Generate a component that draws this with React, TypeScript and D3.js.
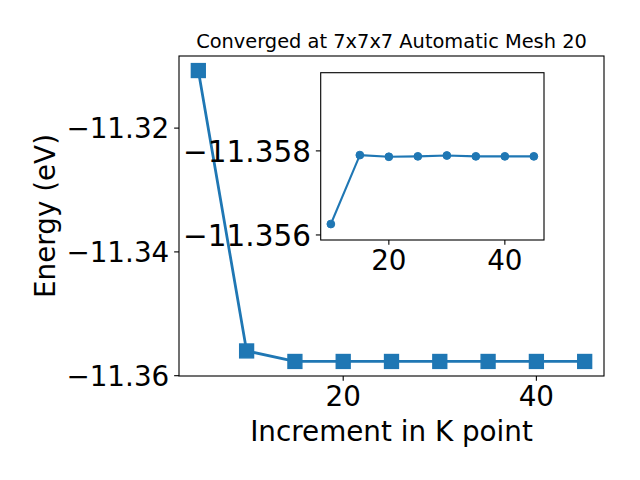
import React from 'react';
import * as d3 from 'd3';

const kPoints = [5, 10, 15, 20, 25, 30, 35, 40, 45];
const energies = [-11.3107, -11.3560, -11.3577, -11.3577, -11.3577, -11.3577, -11.3577, -11.3577, -11.3577];
const insetK = [10, 15, 20, 25, 30, 35, 40, 45];
const insetEnergies = [-11.35626, -11.3579, -11.35786, -11.35787, -11.35789, -11.35787, -11.35787, -11.35787];
const insetYDomain = [-11.35986, -11.35588];
const mainXTicks = [20, 40];
const mainYTicks = [-11.36, -11.34, -11.32];
const insetXTicks = [20, 40];
const insetYTicks = [-11.358, -11.356];
const title = 'Converged at 7x7x7 Automatic Mesh 20';
const xLabel = 'Increment in K point';
const yLabel = 'Energy (eV)';

const W = 640;
const H = 480;
const FONT = 'DejaVu Sans';
const FS = 27.8;
const FS_INSET_Y = 29.5;
const BLUE = '#1f77b4';
const TICK = 4.86;
const PAD = 4.86;

const main = { left: 179, right: 604, top: 56, bottom: 376 };
const inset = { left: 320.7, right: 544, top: 72.7, bottom: 240 };

function padExtent(vals: number[], frac = 0.05): [number, number] {
  const [a, b] = d3.extent(vals) as [number, number];
  const p = (b - a) * frac;
  return [a - p, b + p];
}

const fmt = (v: number, d: number) => v.toFixed(d).replace('-', '\u2212');

export default function App() {
  const x = d3.scaleLinear().domain(padExtent(kPoints)).range([main.left, main.right]);
  const y = d3.scaleLinear().domain(padExtent(energies)).range([main.bottom, main.top]);
  const ix = d3.scaleLinear().domain(padExtent(insetK)).range([inset.left, inset.right]);
  const iy = d3.scaleLinear().domain(insetYDomain).range([inset.top, inset.bottom]);

  const line = d3.line<number>().x((_, i) => x(kPoints[i])).y((d) => y(d));
  const iline = d3.line<number>().x((_, i) => ix(insetK[i])).y((d) => iy(d));

  const sq = 13.9;

  return (
    <svg width={W} height={H} style={{ position: 'absolute', left: 0, top: 0, background: '#fff' }} fontFamily={FONT}>
      <rect x={0} y={0} width={W} height={H} fill="#fff" />
      {/* main axes */}
      <rect x={main.left} y={main.top} width={main.right - main.left} height={main.bottom - main.top} fill="#fff" />
      <path d={line(energies) || ''} fill="none" stroke={BLUE} strokeWidth={2.78} strokeLinejoin="round" />
      {energies.map((e, i) => (
        <rect key={i} x={x(kPoints[i]) - sq / 2} y={y(e) - sq / 2} width={sq} height={sq} fill={BLUE} stroke={BLUE} strokeWidth={1.39} />
      ))}
      <rect x={main.left} y={main.top} width={main.right - main.left} height={main.bottom - main.top} fill="none" stroke="#000" strokeWidth={1.11} />
      {mainXTicks.map((t) => (
        <g key={t}>
          <line x1={x(t)} x2={x(t)} y1={main.bottom} y2={main.bottom + TICK} stroke="#000" strokeWidth={1.11} />
          <text x={x(t)} y={main.bottom + TICK + PAD + 20.6} fontSize={FS} textAnchor="middle">{String(t)}</text>
        </g>
      ))}
      {mainYTicks.map((t) => (
        <g key={t}>
          <line x1={main.left - TICK} x2={main.left} y1={y(t)} y2={y(t)} stroke="#000" strokeWidth={1.11} />
          <text x={main.left - TICK - PAD} y={y(t) + 10.1} fontSize={FS} textAnchor="end">{fmt(t, 2)}</text>
        </g>
      ))}
      <text x={(main.left + main.right) / 2} y={440.5} fontSize={FS} textAnchor="middle">{xLabel}</text>
      <text transform={`translate(55,${(main.top + main.bottom) / 2}) rotate(-90)`} fontSize={FS} textAnchor="middle">{yLabel}</text>
      <text x={(main.left + main.right) / 2} y={47.5} fontSize={19.4} textAnchor="middle">{title}</text>

      {/* inset axes */}
      <rect x={inset.left} y={inset.top} width={inset.right - inset.left} height={inset.bottom - inset.top} fill="#fff" />
      <path d={iline(insetEnergies) || ''} fill="none" stroke={BLUE} strokeWidth={2.08} strokeLinejoin="round" />
      {insetEnergies.map((e, i) => (
        <circle key={i} cx={ix(insetK[i])} cy={iy(e)} r={3.9} fill={BLUE} stroke={BLUE} strokeWidth={1.0} />
      ))}
      <rect x={inset.left} y={inset.top} width={inset.right - inset.left} height={inset.bottom - inset.top} fill="none" stroke="#000" strokeWidth={1.11} />
      {insetXTicks.map((t) => (
        <g key={t}>
          <line x1={ix(t)} x2={ix(t)} y1={inset.bottom} y2={inset.bottom + TICK} stroke="#000" strokeWidth={1.11} />
          <text x={ix(t)} y={inset.bottom + TICK + PAD + 20.6} fontSize={FS} textAnchor="middle">{String(t)}</text>
        </g>
      ))}
      {insetYTicks.map((t) => (
        <g key={t}>
          <line x1={inset.left - TICK} x2={inset.left} y1={iy(t)} y2={iy(t)} stroke="#000" strokeWidth={1.11} />
          <text x={inset.left - TICK - PAD} y={iy(t) + 10.7} fontSize={FS_INSET_Y} textAnchor="end">{fmt(t, 3)}</text>
        </g>
      ))}
    </svg>
  );
}
